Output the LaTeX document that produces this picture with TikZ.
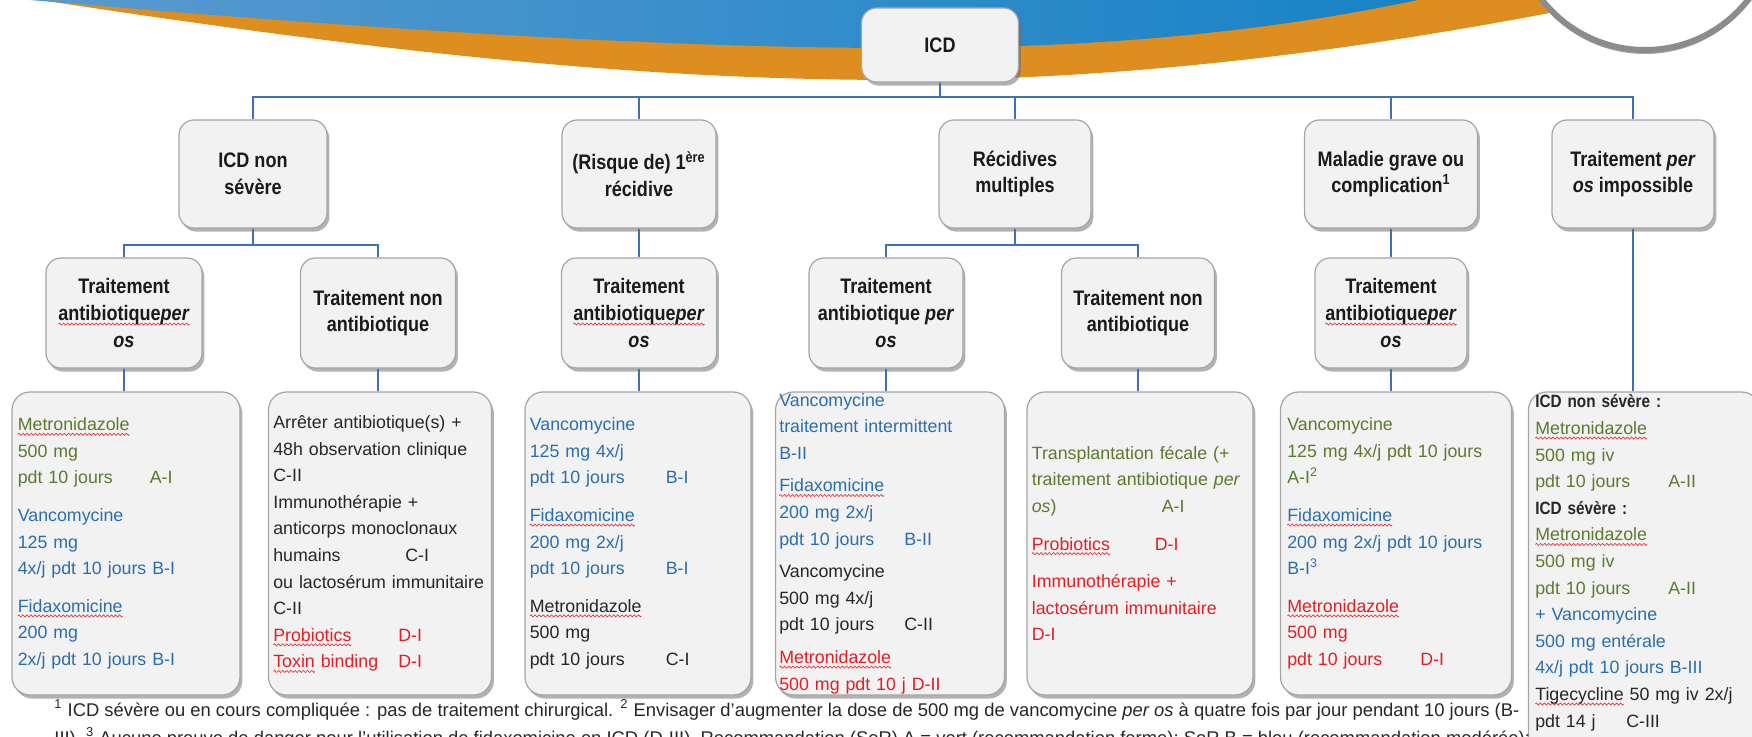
\documentclass[tikz,border=0pt]{standalone}
\usepackage{fontspec}
\setmainfont{Liberation Sans}
\newfontfamily\condfont[FakeStretch=0.86]{Liberation Sans}
\usepackage{xcolor}
\usetikzlibrary{shadows}

\definecolor{grn}{HTML}{5B7A2E}
\definecolor{blu}{HTML}{2A6EB0}
\definecolor{rd}{HTML}{E41E24}
\definecolor{ink}{HTML}{262626}
\definecolor{headink}{HTML}{1A1A1A}
\definecolor{boxfill}{HTML}{F2F2F2}
\definecolor{boxline}{HTML}{A5A5A5}
\definecolor{linkblue}{HTML}{3F6FB5}
\definecolor{swooshorange}{HTML}{DE8E1E}
\definecolor{swooshlt}{HTML}{5A9ACF}
\definecolor{swooshdk}{HTML}{1683C6}
\definecolor{wavyred}{HTML}{E03A3A}

% spell-check squiggle under a word
\newsavebox{\wavebox}
\newsavebox{\wavytext}
\newcommand{\wavy}[1]{\leavevmode\sbox{\wavytext}{#1}%
  \rlap{\raisebox{-2.4pt}[0pt][0pt]{\hbox to \wd\wavytext{\xleaders\copy\wavebox\hfil}}}\usebox{\wavytext}}
\newcommand{\padto}[2]{\makebox[#1][l]{#2}}

\tikzset{
  box/.style={rectangle, rounded corners=7.5pt, draw=boxline, line width=0.6pt, fill=boxfill,
    drop shadow={shadow xshift=1.2pt, shadow yshift=-1.8pt, fill=black!60, opacity=0.5}},
  head/.style={box, align=center, inner sep=2pt, text=headink,
    font=\condfont\bfseries\fontsize{10.5}{13.3}\selectfont},
  lvl0/.style={head, minimum width=78.5pt, minimum height=37pt},
  lvl1/.style={head, minimum height=54pt},
  lvl2/.style={head, minimum height=55pt},
  leaf/.style={box, rounded corners=9pt, minimum height=151.5pt},
  body/.style={anchor=west, inner sep=0pt, text width=113pt, align=left, text=ink,
    font=\fontsize{8.9}{13.3}\selectfont},
  link/.style={draw=linkblue, line width=1.3pt},
  foot/.style={anchor=base west, inner sep=0pt, text=ink, font=\fontsize{9.2}{14}\selectfont},
}

\begin{document}
\global\setbox\wavebox=\hbox{\begin{pgfpicture}%
  \pgfsetlinewidth{0.35pt}\pgfsetstrokecolor{wavyred}%
  \pgfpathmoveto{\pgfpoint{0pt}{0pt}}%
  \pgfpathcurveto{\pgfpoint{0.4pt}{0.7pt}}{\pgfpoint{0.6pt}{0.7pt}}{\pgfpoint{1pt}{0pt}}%
  \pgfpathcurveto{\pgfpoint{1.4pt}{-0.7pt}}{\pgfpoint{1.6pt}{-0.7pt}}{\pgfpoint{2pt}{0pt}}%
  \pgfusepath{stroke}%
  \pgfresetboundingbox
  \pgfpathrectangle{\pgfpoint{0pt}{-0.6pt}}{\pgfpoint{2pt}{1.2pt}}%
  \pgfusepath{use as bounding box}%
\end{pgfpicture}}%
\begin{tikzpicture}[x=0.5pt,y=-0.5pt]
\useasboundingbox (0,0) rectangle (1752,737);
% top banner
\fill[swooshorange] (35,-10) -- (40,0) .. controls (400,55) and (650,80) .. (900,80)
  .. controls (1150,80) and (1400,45) .. (1640,-5) -- (1640,-10) -- cycle;
\shade[left color=swooshlt, right color=swooshdk] (20,-10) -- (30,0) .. controls (380,30) and (680,49) .. (920,48)
  .. controls (1130,47) and (1300,27) .. (1440,-5) -- (1440,-10) -- cycle;
\fill[black!35] (1645,-77) circle (65.5pt);
\draw[black!45, line width=3pt, fill=white] (1645,-81) circle (65.5pt);

% root and first level
\node[lvl0] (icd) at (940,45) {ICD};
\node[lvl1, minimum width=74pt] (nonsev) at (253,174) {ICD non\\sévère};
\node[lvl1, minimum width=77pt] (recid) at (639,174) {(Risque de) 1\textsuperscript{ère}\\récidive};
\node[lvl1, minimum width=76pt] (multi) at (1015,174) {Récidives\\multiples};
\node[lvl1, minimum width=86.5pt] (grave) at (1391,174) {Maladie grave ou\\complication\textsuperscript{1}};
\node[lvl1, minimum width=81pt] (peros) at (1633,174) {Traitement \textit{per}\\\textit{os} impossible};

% second level
\node[lvl2, minimum width=78pt] (ab1) at (124,313) {Traitement\\\wavy{antibiotique\textit{per}}\\\textit{os}};
\node[lvl2, minimum width=77.5pt] (nab1) at (378,313) {Traitement non\\antibiotique};
\node[lvl2, minimum width=77.5pt] (ab2) at (639,313) {Traitement\\\wavy{antibiotique\textit{per}}\\\textit{os}};
\node[lvl2, minimum width=77pt] (ab3) at (886,313) {Traitement\\antibiotique \textit{per}\\\textit{os}};
\node[lvl2, minimum width=76.5pt] (nab2) at (1138,313) {Traitement non\\antibiotique};
\node[lvl2, minimum width=76pt] (ab4) at (1391,313) {Traitement\\\wavy{antibiotique\textit{per}}\\\textit{os}};

% treatment boxes
\node[leaf, minimum width=114pt] (t1) at (126,543.5) {};
\node[leaf, minimum width=111.5pt] (t2) at (380,543.5) {};
\node[leaf, minimum width=113pt] (t3) at (638,543.5) {};
\node[leaf, minimum width=114.5pt] (t4) at (890,543.5) {};
\node[leaf, minimum width=113pt] (t5) at (1140,543.5) {};
\node[leaf, minimum width=115.5pt] (t6) at (1396,543.5) {};
\node[leaf, minimum width=115.5pt, minimum height=184pt] (t7) at (1644,576) {};

\node[body, text=grn] (t1txt) at ([xshift=3pt]t1.west)
  {\wavy{Metronidazole}\\500 mg\\\padto{66pt}{pdt 10 jours}A-I\\[5.5pt]
   \color{blu}Vancomycine\\125 mg\\4x/j pdt 10 jours B-I\\[5.5pt]
   \wavy{Fidaxomicine}\\200 mg\\2x/j pdt 10 jours B-I};
\node[body] (t2txt) at ([xshift=2.5pt]t2.west)
  {Arrêter antibiotique(s) +\\48h observation clinique\\C-II\\Immunothérapie +\\anticorps monoclonaux\\
   \padto{66pt}{humains}C-I\\ou lactosérum immunitaire\\C-II\\
   \color{rd}\padto{62.5pt}{\wavy{Probiotics}}D-I\\\padto{62.5pt}{\wavy{Toxin} binding}D-I};
\node[body, text=blu] (t3txt) at ([xshift=2.5pt]t3.west)
  {Vancomycine\\125 mg 4x/j\\\padto{68pt}{pdt 10 jours}B-I\\[5.5pt]
   \wavy{Fidaxomicine}\\200 mg 2x/j\\\padto{68pt}{pdt 10 jours}B-I\\[5.5pt]
   \color{ink}\wavy{Metronidazole}\\500 mg\\\padto{68pt}{pdt 10 jours}C-I};
\node[body, text=blu] (t4txt) at ([xshift=2pt]t4.west)
  {Vancomycine\\traitement intermittent\\B-II\\[3pt]
   \wavy{Fidaxomicine}\\200 mg 2x/j\\\padto{62.5pt}{pdt 10 jours}B-II\\[3pt]
   \color{ink}Vancomycine\\500 mg 4x/j\\\padto{62.5pt}{pdt 10 jours}C-II\\[3pt]
   \color{rd}\wavy{Metronidazole}\\500 mg pdt 10 j D-II};
\node[body, text=grn] (t5txt) at ([xshift=2.5pt]t5.west)
  {Transplantation fécale (+\\traitement antibiotique \textit{per}\\\padto{65pt}{\textit{os})}A-I\\[5.5pt]
   \color{rd}\padto{61.5pt}{\wavy{Probiotics}}D-I\\[5.5pt]
   Immunothérapie +\\lactosérum immunitaire\\D-I};
\node[body, text=grn] (t6txt) at ([xshift=3.5pt]t6.west)
  {Vancomycine\\125 mg 4x/j pdt 10 jours\\A-I\textsuperscript{2}\\[5.5pt]
   \color{blu}\wavy{Fidaxomicine}\\200 mg 2x/j pdt 10 jours\\B-I\textsuperscript{3}\\[5.5pt]
   \color{rd}\wavy{Metronidazole}\\500 mg\\\padto{66.5pt}{pdt 10 jours}D-I};
\node[body, anchor=north west] (t7txt) at ([xshift=3.5pt,yshift=-1.5pt]t7.north west)
  {{\condfont\bfseries ICD non sévère :}\\
   \color{grn}\wavy{Metronidazole}\\500 mg iv\\\padto{66.5pt}{pdt 10 jours}A-II\\
   \color{ink}{\condfont\bfseries ICD sévère :}\\
   \color{grn}\wavy{Metronidazole}\\500 mg iv\\\padto{66.5pt}{pdt 10 jours}A-II\\
   \color{blu}+ Vancomycine\\500 mg entérale\\4x/j pdt 10 jours B-III\\
   \color{ink}\wavy{Tigecycline} 50 mg iv 2x/j\\\padto{45.5pt}{pdt 14 j}C-III};

% connectors
\coordinate (bus1) at (0,97);
\coordinate (bus2) at (0,245);
\draw[link] (icd.south) |- (nonsev.north |- bus1) -- (nonsev.north);
\draw[link] (icd.south) |- (recid.north |- bus1) -- (recid.north);
\draw[link] (icd.south) |- (multi.north |- bus1) -- (multi.north);
\draw[link] (icd.south) |- (grave.north |- bus1) -- (grave.north);
\draw[link] (icd.south) |- (peros.north |- bus1) -- (peros.north);
\draw[link] (nonsev.south) |- (ab1.north |- bus2) -- (ab1.north);
\draw[link] (nonsev.south) |- (nab1.north |- bus2) -- (nab1.north);
\draw[link] (recid.south) -- (ab2.north);
\draw[link] (multi.south) |- (ab3.north |- bus2) -- (ab3.north);
\draw[link] (multi.south) |- (nab2.north |- bus2) -- (nab2.north);
\draw[link] (grave.south) -- (ab4.north);
\draw[link] (peros.south) -- (peros.south |- t7.north);
\draw[link] (ab1.south) -- (ab1.south |- t1.north);
\draw[link] (nab1.south) -- (nab1.south |- t2.north);
\draw[link] (ab2.south) -- (ab2.south |- t3.north);
\draw[link] (ab3.south) -- (ab3.south |- t4.north);
\draw[link] (nab2.south) -- (nab2.south |- t5.north);
\draw[link] (ab4.south) -- (ab4.south |- t6.north);

% footnotes
\node[foot] (foot1) at (54,716) {\textsuperscript{1} ICD sévère ou en cours compliquée : pas de traitement chirurgical. \textsuperscript{2} Envisager d'augmenter la dose de 500 mg de vancomycine \textit{per os} à quatre fois par jour pendant 10 jours (B-};
\node[foot] (foot2) at (54,744) {III). \textsuperscript{3} Aucune preuve de danger pour l'utilisation de fidaxomicine en ICD (D-III). Recommandation (SoR) A = vert (recommandation ferme); SoR B = bleu (recommandation modérée);};
\end{tikzpicture}
\end{document}
